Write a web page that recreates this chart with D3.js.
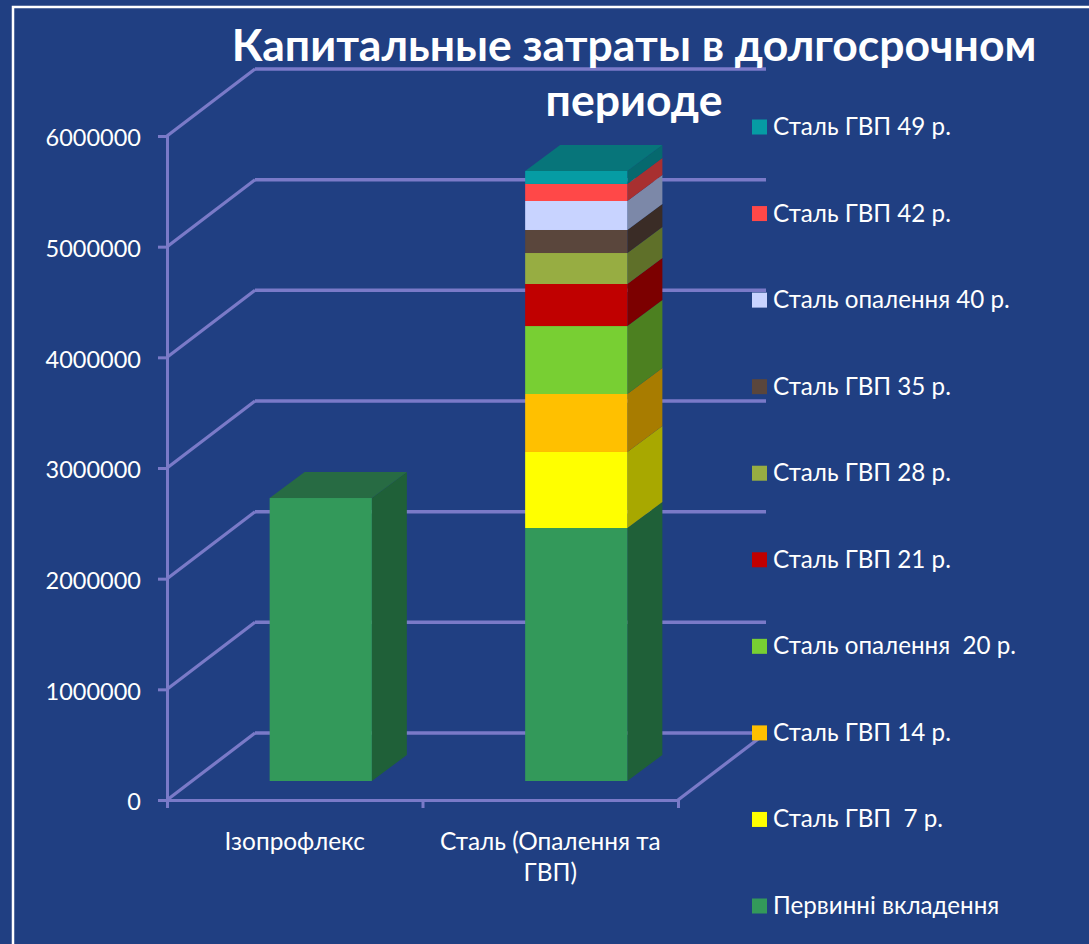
<!DOCTYPE html>
<html lang="uk"><head><meta charset="utf-8">
<script src="https://cdn.jsdelivr.net/npm/d3@7/dist/d3.min.js"></script>
<style>html,body{margin:0;padding:0;background:#203f82;overflow:hidden}svg{display:block}</style>
</head><body><svg id="c" width="1089" height="944"></svg>
<script>
const categories = ["Ізопрофлекс", "Сталь (Опалення та|ГВП)"];
const seriesNames = ["Первинні вкладення","Сталь ГВП  7 р.","Сталь ГВП 14 р.","Сталь опалення  20 р.","Сталь ГВП 21 р.","Сталь ГВП 28 р.","Сталь ГВП 35 р.","Сталь опалення 40 р.","Сталь ГВП 42 р.","Сталь ГВП 49 р."];
const izoproflexValues = [2557000,0,0,0,0,0,0,0,0,0];
const steelValues = [2286000,687000,524000,614000,380000,280000,208000,262000,154000,117000];
const seriesColors = ["#33995a","#ffff00","#ffc000","#78cf33","#c00000","#97ad42","#5a463c","#c8d3ff","#ff4848","#069ca4"];
const sideColors = ["#1f6038","#a8a800","#a87c00","#4c8020","#7c0000","#5f7029","#3a2c26","#7c88a8","#a83030","#06696e"];
const topColor = "#07757a";
const yTicks = [0,1000000,2000000,3000000,4000000,5000000,6000000];
const titleLines = ["Капитальные затраты в долгосрочном","периоде"];

const FONT = "Lato, 'Open Sans', 'Noto Sans', sans-serif";
const grid = "#7a7ac8";
const svg = d3.select("#c");
svg.append("rect").attr("x",13).attr("y",7).attr("width",1200).attr("height",1100).attr("fill","none").attr("stroke","#fff").attr("stroke-width",2.5);

const y = d3.scaleLinear().domain([0,6000000]).range([800,136]);
const x = d3.scaleBand().domain(categories).range([167,678]).paddingInner(0.6).paddingOuter(0.3);
const edge = d3.scalePoint().domain([0,1,2]).range([167,678]);
const wall = {dx:88, dy:-67};
const barOff = {dx:26, dy:-19};
const depth = {dx:35, dy:-26};

// walls
const g = svg.append("g").attr("fill","none").attr("stroke",grid);
yTicks.forEach(v=>{
  g.append("path").attr("stroke-width",3.2)
    .attr("d",d3.line()([[167,y(v)],[167+wall.dx,y(v)+wall.dy]]));
  g.append("path").attr("stroke-width",3.5)
    .attr("d",d3.line()([[167+wall.dx,y(v)+wall.dy],[678+wall.dx,y(v)+wall.dy]]));
});
g.append("path").attr("stroke-width",3.2).attr("d",d3.line()([[678,y(0)],[678+wall.dx,y(0)+wall.dy]]));

// bars
const rows = [izoproflexValues, steelValues];
categories.forEach((c,ci)=>{
  const bar = svg.append("g");
  const x0 = x(c)+barOff.dx, x1 = x0+x.bandwidth();
  let acc = 0;
  const segs = [];
  rows[ci].forEach((v,si)=>{ if(v>0){ segs.push({si,a:acc,b:acc+v}); acc+=v; } });
  const py = v => y(v)+barOff.dy;
  segs.forEach(s=>{
    bar.append("path").attr("fill",sideColors[s.si])
      .attr("d",d3.line()([[x1,py(s.a)],[x1,py(s.b)],[x1+depth.dx,py(s.b)+depth.dy],[x1+depth.dx,py(s.a)+depth.dy]])+"Z");
    bar.append("rect").attr("x",x0).attr("y",py(s.b)).attr("width",x1-x0).attr("height",py(s.a)-py(s.b)).attr("fill",seriesColors[s.si]);
  });
  const last = segs[segs.length-1];
  const top = last.si===0 ? "#276b43" : topColor;
  bar.append("path").attr("fill",top)
    .attr("d",d3.line()([[x0,py(acc)],[x0+depth.dx,py(acc)+depth.dy],[x1+depth.dx,py(acc)+depth.dy],[x1,py(acc)]])+"Z");
});

// axes
const yAxis = svg.append("g").attr("transform","translate(167,0)")
  .call(d3.axisLeft(y).tickValues(yTicks).tickFormat(d3.format("d")).tickSize(9).tickPadding(17));
yAxis.selectAll("path,line").attr("stroke",grid).attr("stroke-width",3);
yAxis.selectAll("text").attr("fill","#fff").attr("font-family",FONT).attr("font-size",23.5).attr("dy","0.42em");
const edgeAxis = svg.append("g").attr("transform","translate(0,800)")
  .call(d3.axisBottom(edge).tickSize(8).tickFormat(""));
edgeAxis.selectAll("path,line").attr("stroke",grid).attr("stroke-width",3);
const catAxis = svg.append("g").attr("transform","translate(0,800)")
  .call(d3.axisBottom(x).tickSize(0).tickFormat(""));
catAxis.select("path").remove();
catAxis.selectAll(".tick").each(function(d){
  const t = d3.select(this);
  t.select("text").remove();
  d.split("|").forEach((line,i)=>{
    t.append("text").text(line).attr("y",50+i*31).attr("text-anchor","middle")
      .attr("fill","#fff").attr("font-family",FONT).attr("font-size",24.4);
  });
});

// title
titleLines.forEach((t,i)=>{
  svg.append("text").text(t).attr("x",634).attr("y",61+i*55).attr("text-anchor","middle")
    .attr("fill","#fff").attr("font-family",FONT).attr("font-weight",700).attr("font-size",44.5);
});

// legend
const legendOrder = seriesNames.map((n,i)=>i).reverse();
const ly = d3.scalePoint().domain(legendOrder).range([127,906]);
legendOrder.forEach(i=>{
  svg.append("rect").attr("x",752).attr("y",ly(i)-7.5).attr("width",15).attr("height",15).attr("fill",seriesColors[i]);
  svg.append("text").text(seriesNames[i]).attr("x",773).attr("y",ly(i)+8).style("white-space","pre")
    .attr("fill","#fff").attr("font-family",FONT).attr("font-size",24.2);
});
</script></body></html>
